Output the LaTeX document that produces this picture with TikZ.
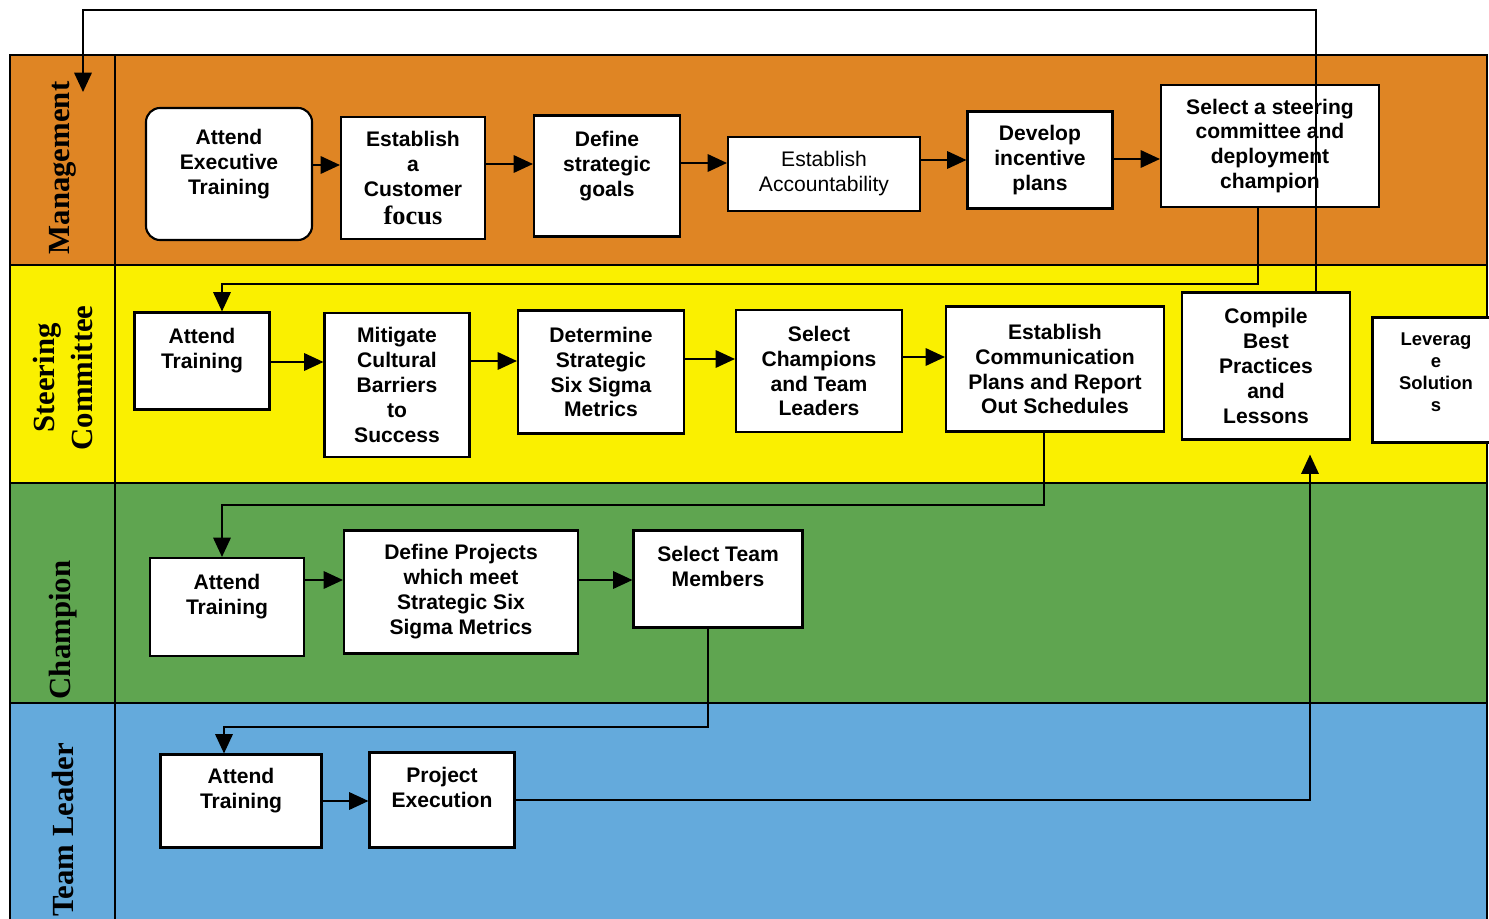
\documentclass[tikz,border=0pt]{standalone}
\usepackage{fontspec}
\setmainfont{Liberation Sans}
\newfontfamily\lanefont{Liberation Serif}
\usetikzlibrary{arrows.meta}
\definecolor{mgmtorange}{RGB}{223,133,36}
\definecolor{steeryellow}{RGB}{250,240,0}
\definecolor{champgreen}{RGB}{95,165,80}
\definecolor{teamblue}{RGB}{100,170,220}
\tikzset{
  stepbox/.style={draw=black,line width=1.2pt,fill=white,align=center,inner sep=2pt},
  wh/.style 2 args={minimum width=#1*0.02cm,minimum height=#2*0.02cm},
  flow/.style={line width=0.9pt,-{Triangle[length=11pt,width=10pt]}},
  lanelab/.style={rotate=90,align=center,font=\lanefont\bfseries\fontsize{17.5}{21.5}\selectfont}
}
\begin{document}
\begin{tikzpicture}[x=0.02cm,y=-0.02cm,font=\bfseries\fontsize{12}{14.2}\selectfont]
\clip (0,0) rectangle (1489,919);
\fill[white] (0,0) rectangle (1489,919);
\foreach \top/\bot/\ly/\col/\lab/\n in {55/265/168/mgmtorange/Management/1,265/483/378/steeryellow/{Steering\\Committee}/2,483/703/630/champgreen/Champion/3,703/940/830/teamblue/{Team Leader}/4} {
  \filldraw[fill=\col,draw=black,line width=0.8pt] (10,\top) rectangle (1487,\bot);
  \draw[line width=0.8pt] (115,\top) -- (115,\bot);
  \node[lanelab] (lane\n) at (63,\ly) {\lab};}

\node[stepbox,wh={166}{132},rounded corners=8pt] (m1) at (229,174) {Attend\\Executive\\Training\\~};
\node[stepbox,wh={144}{122}] (m2) at (413,178) {Establish\\a\\Customer\\[2pt]{\lanefont\fontsize{15}{16}\selectfont focus}};
\node[stepbox,wh={146}{121}] (m3) at (607,176) {Define\\strategic\\goals\\~};
\node[stepbox,wh={192}{74},font=\mdseries\fontsize{12}{14.2}\selectfont] (m4) at (824,174) {Establish\\Accountability};
\node[stepbox,wh={145}{97}] (m5) at (1040,160) {Develop\\incentive\\plans};
\node[stepbox,wh={218}{122}] (m6) at (1270,146) {Select a steering\\committee and\\deployment\\champion};

\node[stepbox,wh={135}{97}] (s1) at (202,361) {Attend\\Training\\~};
\node[stepbox,wh={145}{144}] (s2) at (397,385) {Mitigate\\Cultural\\Barriers\\to\\Success};
\node[stepbox,wh={166}{123}] (s3) at (601,372) {Determine\\Strategic\\Six Sigma\\Metrics};
\node[stepbox,wh={166}{122}] (s4) at (819,371) {Select\\Champions\\and Team\\Leaders};
\node[stepbox,wh={218}{125}] (s5) at (1055,369) {Establish\\Communication\\Plans and Report\\Out Schedules};
\node[stepbox,wh={168}{147}] (s6) at (1266,366) {Compile\\Best\\Practices\\and\\Lessons};
\node[stepbox,wh={127}{125},font=\bfseries\fontsize{10.5}{12.6}\selectfont] (s7) at (1436,380) {Leverag\\e\\Solution\\s\\[-4pt]~};

\node[stepbox,wh={154}{98}] (c1) at (227,607) {Attend\\Training\\~};
\node[stepbox,wh={234}{123}] (c2) at (461,592) {Define Projects\\which meet\\Strategic Six\\Sigma Metrics};
\node[stepbox,wh={169}{97}] (c3) at (718,579) {Select Team\\Members\\~};

\node[stepbox,wh={161}{93}] (t1) at (241,801) {Attend\\Training\\~};
\node[stepbox,wh={145}{95}] (t2) at (442,800) {Project\\Execution\\~};

\foreach \a/\b/\y in {m1/m2/165,m2/m3/164,m3/m4/163,m4/m5/160,m5/m6/159,s1/s2/362,s2/s3/361,s3/s4/359,s4/s5/357,c1/c2/580,c2/c3/580,t1/t2/801}
  \draw[flow] (\a.east |- 0,\y) -- (\b.west |- 0,\y);

\draw[flow] (m6.south -| 1258,0) -- (1258,284) -| (s1.north -| 222,0);
\draw[flow] (s5.south -| 1044,0) -- (1044,505) -| (c1.north -| 222,0);
\draw[flow] (c3.south -| 708,0) -- (708,727) -| (t1.north -| 224,0);
\draw[flow,shorten >=8pt] (t2.east |- 0,800) -| (s6.south -| 1310,0);
\coordinate (mgmtIn) at (83,92);
\draw[flow] (s6.north -| 1316,0) -- (1316,10) -| (mgmtIn);
\end{tikzpicture}
\end{document}
